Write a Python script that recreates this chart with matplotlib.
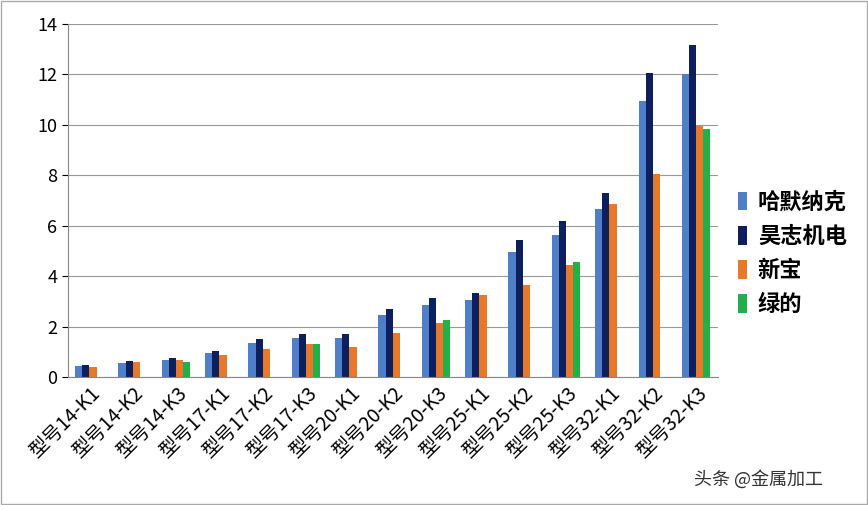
import numpy as np
import matplotlib.pyplot as plt

plt.rcParams['font.family'] = ['Noto Sans CJK SC', 'DejaVu Sans']

categories = ['型号14-K1', '型号14-K2', '型号14-K3', '型号17-K1', '型号17-K2', '型号17-K3',
              '型号20-K1', '型号20-K2', '型号20-K3', '型号25-K1', '型号25-K2', '型号25-K3',
              '型号32-K1', '型号32-K2', '型号32-K3']
hamo = [0.45, 0.55, 0.7, 0.95, 1.35, 1.55, 1.55, 2.45, 2.85, 3.05, 4.95, 5.65, 6.65, 10.95, 12.0]
haozhi = [0.5, 0.65, 0.75, 1.05, 1.5, 1.7, 1.7, 2.7, 3.15, 3.35, 5.45, 6.2, 7.3, 12.05, 13.15]
xinbao = [0.4, 0.6, 0.7, 0.9, 1.1, 1.3, 1.2, 1.75, 2.15, 3.25, 3.65, 4.45, 6.85, 8.05, 9.95]
lvde = [0, 0, 0.6, 0, 0, 1.3, 0, 0, 2.25, 0, 0, 4.55, 0, 0, 9.85]

series = [('哈默纳克', hamo, '#4F7FC8'), ('昊志机电', haozhi, '#0D1F5C'),
          ('新宝', xinbao, '#E8782A'), ('绿的', lvde, '#22B04B')]

fig = plt.figure(figsize=(8.68, 5.05), dpi=100)
ax = fig.add_axes([0.078, 0.253, 0.749, 0.7])
x = np.arange(len(categories))
w = 0.165
for i, (name, vals, c) in enumerate(series):
    ax.bar(x + (i - 1.5) * w, vals, w, color=c, label=name)

ax.set_xlim(-0.5, len(categories) - 0.5)
ax.set_ylim(0, 14)
ax.set_yticks(range(0, 15, 2))
ax.yaxis.grid(True, color='#999999', lw=0.8)
ax.set_axisbelow(True)
ax.set_xticks(x)
ax.set_xticklabels(categories, rotation=45, ha='right', rotation_mode='anchor', fontsize=14)
ax.tick_params(axis='y', labelsize=13, length=4)
ax.tick_params(axis='x', length=0, pad=4)
for s in ['top', 'right']:
    ax.spines[s].set_visible(False)
ax.spines['left'].set_color('#888888')
ax.spines['bottom'].set_color('#888888')

leg = ax.legend(loc='center left', bbox_to_anchor=(1.0, 0.35), frameon=False,
                prop={'size': 16, 'weight': 'bold'}, handlelength=0.4, handleheight=0.9,
                handletextpad=0.5, labelspacing=0.5)

fig.text(0.8, 0.04, '头条 @金属加工', fontsize=13, color='#333333')
fig.patches.append(plt.Rectangle((0.001, 0.001), 0.998, 0.998, transform=fig.transFigure,
                                 fill=False, ec='#aaaaaa', lw=1))
fig.savefig('out.png')
